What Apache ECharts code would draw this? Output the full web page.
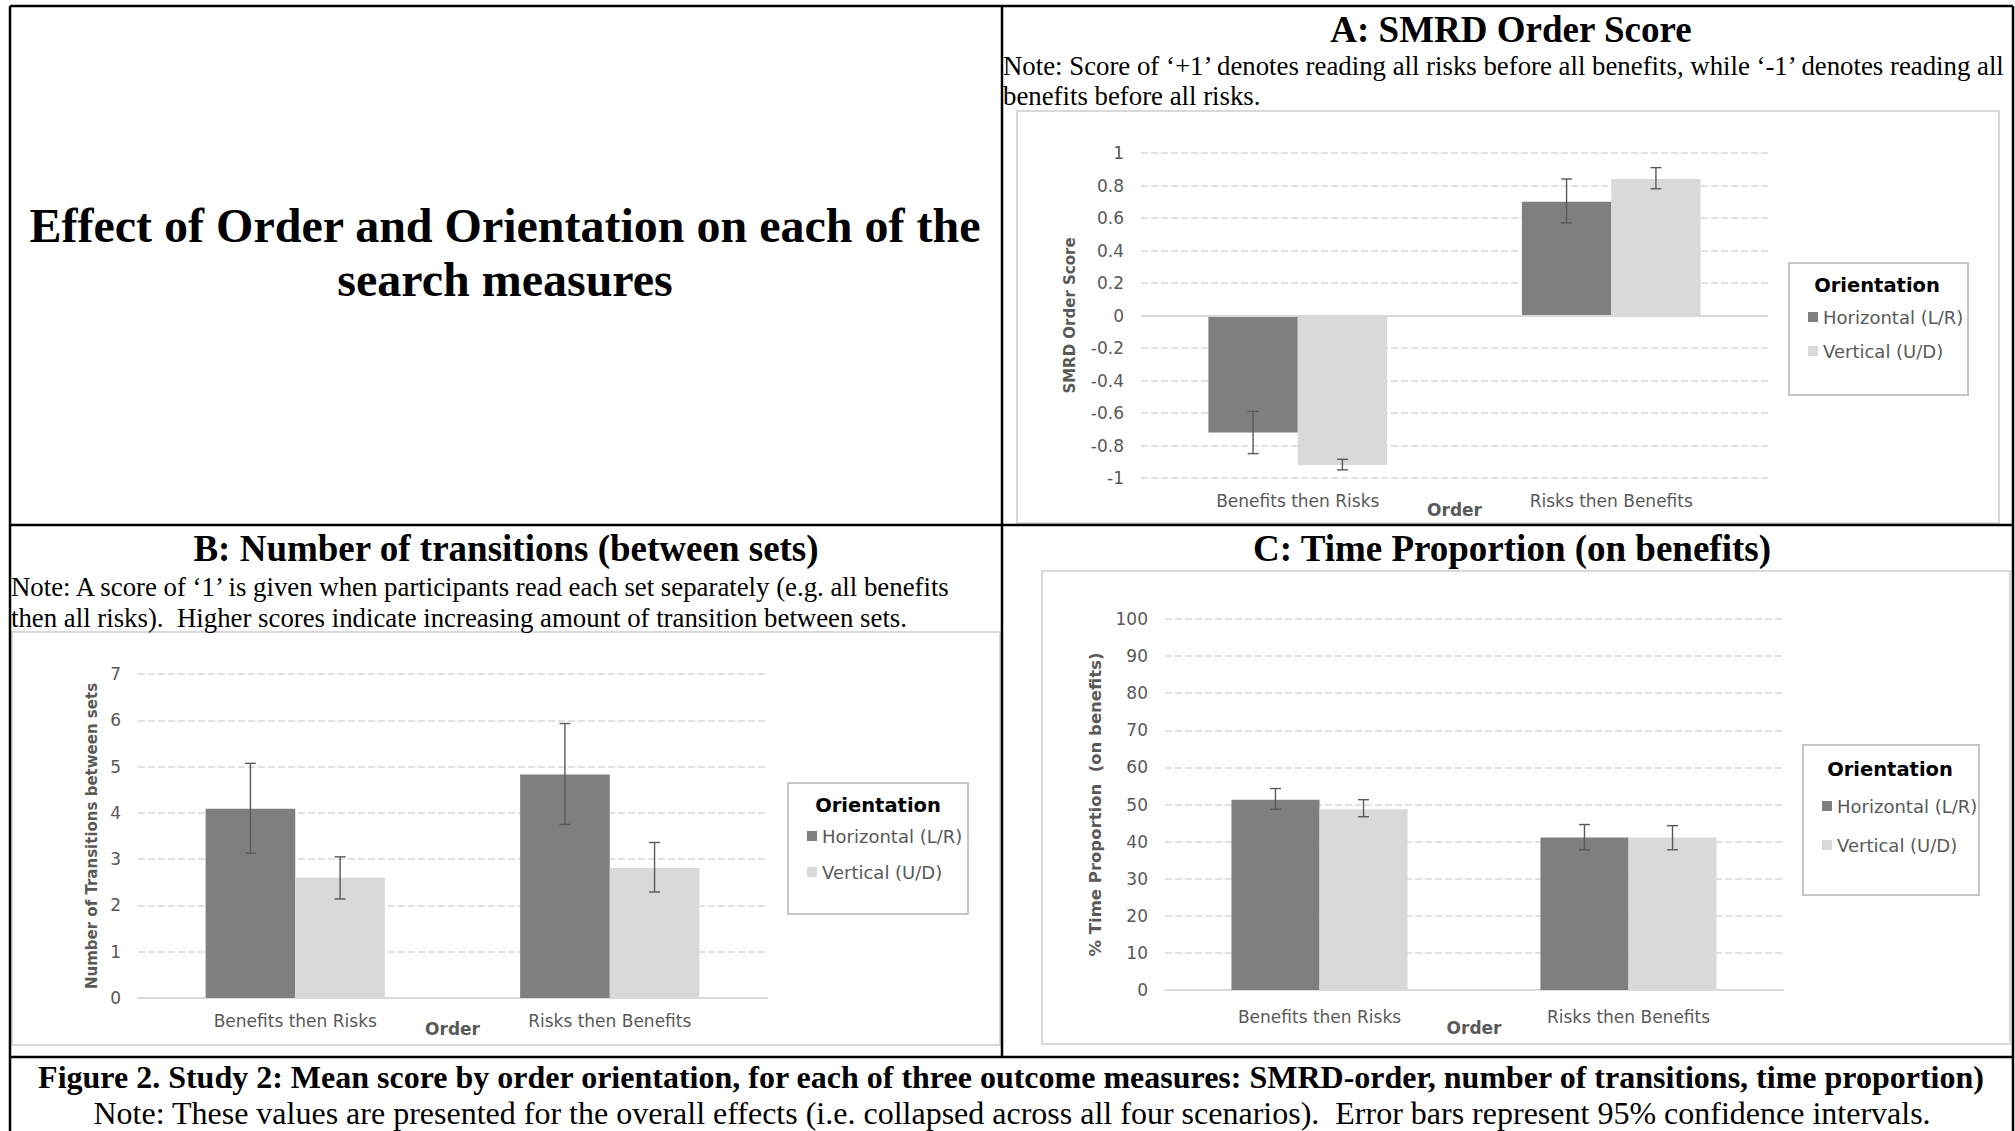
<!DOCTYPE html>
<html>
<head>
<meta charset="utf-8">
<title>Effect of Order and Orientation on each of the search measures</title>
<script src="https://cdn.jsdelivr.net/npm/echarts@6/dist/echarts.min.js"></script>
<style>
  html, body { margin: 0; padding: 0; background: #fff; }
  #chart { width: 2015px; height: 1131px; }
</style>
</head>
<body>
<div id="chart"></div>
<script>
// ---- data ----
const categories = ['Benefits then Risks', 'Risks then Benefits'];
const seriesNames = ['Horizontal (L/R)', 'Vertical (U/D)'];

// A: SMRD order score (means and 95% CI)
const smrdHorizontal = [-0.72, 0.70];
const smrdVertical = [-0.92, 0.84];
const smrdHorizontalCI = [[-0.85, -0.59], [0.57, 0.84]];
const smrdVerticalCI = [[-0.95, -0.885], [0.78, 0.91]];

// B: number of transitions between sets
const transHorizontal = [4.09, 4.83];
const transVertical = [2.60, 2.81];
const transHorizontalCI = [[3.13, 5.07], [3.75, 5.93]];
const transVerticalCI = [[2.14, 3.05], [2.29, 3.36]];

// C: % time proportion on benefits
const timeHorizontal = [51.3, 41.1];
const timeVertical = [48.7, 41.1];
const timeHorizontalCI = [[48.7, 54.3], [37.8, 44.6]];
const timeVerticalCI = [[46.7, 51.3], [37.8, 44.3]];

// value axes: [min, max, interval]
const smrdAxis = [-1, 1, 0.2];
const transAxis = [0, 7, 1];
const timeAxis = [0, 100, 10];

// ---- styling ----
const DARK = '#7f7f7f';
const LIGHT = '#d9d9d9';
const GRID_LINE = '#d9d9d9';
const TEXT_GREY = '#595959';
const SANS = '"DejaVu Sans", "Noto Sans", sans-serif';
const SERIF = '"Liberation Serif", "Times New Roman", serif';
const CAT_GAP = 0.43;

const chart = echarts.init(document.getElementById('chart'), null, { renderer: 'svg', width: 2015, height: 1131 });

function errorBarItem(params, api) {
  const idx = api.value(0);
  const lo = api.coord([idx, api.value(1)]);
  const hi = api.coord([idx, api.value(2)]);
  const band = api.size([1, 0])[0];
  const barW = band * (1 - CAT_GAP) / 2;
  const x = lo[0] + api.value(3) * barW / 2;
  const cap = 5.5;
  const style = { stroke: TEXT_GREY, lineWidth: 1.4 };
  return {
    type: 'group',
    children: [
      { type: 'line', shape: { x1: x, y1: lo[1], x2: x, y2: hi[1] }, style },
      { type: 'line', shape: { x1: x - cap, y1: lo[1], x2: x + cap, y2: lo[1] }, style },
      { type: 'line', shape: { x1: x - cap, y1: hi[1], x2: x + cap, y2: hi[1] }, style }
    ]
  };
}

function errorSeries(idx, ciH, ciV) {
  const data = [];
  ciH.forEach((c, i) => data.push([i, c[0], c[1], -1]));
  ciV.forEach((c, i) => data.push([i, c[0], c[1], 1]));
  return {
    type: 'custom', xAxisIndex: idx, yAxisIndex: idx, silent: true, z: 10,
    renderItem: errorBarItem, encode: { x: 0, y: [1, 2] }, data
  };
}

function barSeries(idx, name, values, color, extra) {
  return Object.assign({
    type: 'bar', name, xAxisIndex: idx, yAxisIndex: idx, data: values,
    itemStyle: { color }, barGap: '0%', barCategoryGap: (CAT_GAP * 100) + '%', silent: true
  }, extra || {});
}

function xAxisFor(idx, showLine, labelMargin, nameGap) {
  return {
    type: 'category', gridIndex: idx, data: categories,
    axisLine: { show: showLine, onZero: false, lineStyle: { color: GRID_LINE, width: 2 } },
    axisTick: { show: false },
    axisLabel: { color: TEXT_GREY, fontFamily: SANS, fontSize: 17, margin: labelMargin },
    name: 'Order', nameLocation: 'middle', nameGap, nameMoveOverlap: false,
    nameTextStyle: { color: TEXT_GREY, fontFamily: SANS, fontSize: 17, fontWeight: 'bold' }
  };
}

function yAxisFor(idx, range, title, nameGap, titleSize) {
  return {
    type: 'value', gridIndex: idx, min: range[0], max: range[1], interval: range[2],
    axisLine: { show: false }, axisTick: { show: false },
    axisLabel: { color: TEXT_GREY, fontFamily: SANS, fontSize: 17, margin: 17 },
    splitLine: { lineStyle: { color: GRID_LINE, type: [7, 3], width: 1.6 } },
    name: title, nameLocation: 'middle', nameGap, nameRotate: 90, nameMoveOverlap: false,
    nameTextStyle: { color: TEXT_GREY, fontFamily: SANS, fontSize: titleSize, fontWeight: 'bold' }
  };
}

function legendFor(left, top, gap) {
  return {
    data: seriesNames, orient: 'vertical', left, top, itemGap: gap,
    itemWidth: 10, itemHeight: 10, icon: 'rect', selectedMode: false,
    textStyle: { color: TEXT_GREY, fontFamily: SANS, fontSize: 18, lineHeight: 18 }
  };
}

function text(x, y, str, size, weight, align, color) {
  return {
    type: 'text', x, y, silent: true, z: 50,
    style: {
      text: str, fill: color || '#000', fontFamily: SERIF, fontSize: size,
      fontWeight: weight || 'normal', align: align || 'left', verticalAlign: 'middle'
    }
  };
}

function sansText(x, y, str, size) {
  return {
    type: 'text', x, y, silent: true, z: 50,
    style: { text: str, fill: '#000', fontFamily: SANS, fontSize: size, fontWeight: 'bold', align: 'center', verticalAlign: 'middle' }
  };
}

function frame(x, y, w, h, color, lw) {
  return { type: 'rect', silent: true, z: 1, shape: { x, y, width: w, height: h }, style: { fill: null, stroke: color, lineWidth: lw } };
}

function rule(x1, y1, x2, y2) {
  return { type: 'line', silent: true, z: 60, shape: { x1, y1, x2, y2 }, style: { stroke: '#000', lineWidth: 2.5 } };
}

const graphics = [
  // chart panels
  frame(1017, 111, 982, 412, '#d9d9d9', 2),
  frame(12, 632, 988, 413, '#d9d9d9', 2),
  frame(1042, 571, 968, 473, '#d9d9d9', 2),
  // legend boxes
  frame(1789, 263, 179, 132, '#c6c6c6', 2),
  frame(788, 783, 180, 131, '#c6c6c6', 2),
  frame(1803, 745, 176, 150, '#c6c6c6', 2),
  sansText(1877, 285, 'Orientation', 19.5),
  sansText(878, 805, 'Orientation', 19.5),
  sansText(1890, 769, 'Orientation', 19.5),
  // table rules
  rule(10, 6, 2013, 6),
  rule(10, 6, 10, 1140),
  rule(2013, 6, 2013, 1140),
  rule(10, 525, 2013, 525),
  rule(1002, 6, 1002, 1057),
  rule(10, 1057, 2013, 1057),
  // headings and notes
  text(505, 225, 'Effect of Order and Orientation on each of the', 48, 'bold', 'center'),
  text(505, 279, 'search measures', 48, 'bold', 'center'),
  text(1511, 29, 'A: SMRD Order Score', 37, 'bold', 'center'),
  text(1003, 65.5, 'Note: Score of \u2018+1\u2019 denotes reading all risks before all benefits, while \u2018-1\u2019 denotes reading all', 26.8),
  text(1003, 95.5, 'benefits before all risks.', 26.8),
  text(506, 548, 'B: Number of transitions (between sets)', 37, 'bold', 'center'),
  text(11, 587, 'Note: A score of \u20181\u2019 is given when participants read each set separately (e.g. all benefits', 26.8),
  text(11, 618, 'then all risks).  Higher scores indicate increasing amount of transition between sets.', 26.8),
  text(1512, 548, 'C: Time Proportion (on benefits)', 37, 'bold', 'center'),
  text(1011, 1077, 'Figure 2. Study 2: Mean score by order orientation, for each of three outcome measures: SMRD-order, number of transitions, time proportion)', 32, 'bold', 'center'),
  text(1012, 1113, 'Note: These values are presented for the overall effects (i.e. collapsed across all four scenarios).  Error bars represent 95% confidence intervals.', 32, 'normal', 'center')
];

const option = {
  animation: false,
  backgroundColor: '#fff',
  grid: [
    { left: 1141, top: 153, width: 627, height: 325 },
    { left: 138, top: 674, width: 629, height: 324 },
    { left: 1165, top: 619, width: 618, height: 371 }
  ],
  xAxis: [
    xAxisFor(0, false, 14, 23),
    xAxisFor(1, true, 14, 22),
    xAxisFor(2, true, 18, 29)
  ],
  yAxis: [
    yAxisFor(0, smrdAxis, 'SMRD Order Score', 64, 15),
    yAxisFor(1, transAxis, 'Number of Transitions between sets', 39, 15),
    yAxisFor(2, timeAxis, '% Time Proportion  (on benefits)', 61, 16.5)
  ],
  legend: [
    legendFor(1803, 303, 16),
    legendFor(802, 822, 18),
    legendFor(1817, 792, 21)
  ],
  series: [
    barSeries(0, seriesNames[0], smrdHorizontal, DARK, {
      markLine: {
        silent: true, symbol: 'none', label: { show: false },
        lineStyle: { color: GRID_LINE, type: 'solid', width: 2 },
        data: [{ yAxis: 0 }]
      }
    }),
    barSeries(0, seriesNames[1], smrdVertical, LIGHT),
    errorSeries(0, smrdHorizontalCI, smrdVerticalCI),
    barSeries(1, seriesNames[0], transHorizontal, DARK),
    barSeries(1, seriesNames[1], transVertical, LIGHT),
    errorSeries(1, transHorizontalCI, transVerticalCI),
    barSeries(2, seriesNames[0], timeHorizontal, DARK),
    barSeries(2, seriesNames[1], timeVertical, LIGHT),
    errorSeries(2, timeHorizontalCI, timeVerticalCI)
  ],
  graphic: { elements: graphics }
};

chart.setOption(option);
</script>
</body>
</html>
